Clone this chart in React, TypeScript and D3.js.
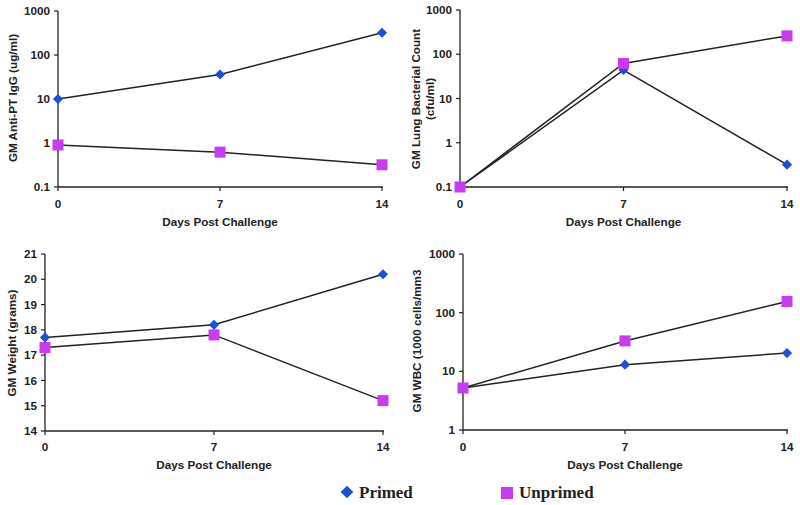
import React from "react";
import * as d3 from "d3";

const days = [0, 7, 14];
const xTicks = ["0", "7", "14"];

const igPrimed = [10, 36, 320];
const igUnprimed = [0.9, 0.62, 0.32];

const lungPrimed = [0.1, 44, 0.32];
const lungUnprimed = [0.1, 62, 260];

const weightPrimed = [17.7, 18.2, 20.2];
const weightUnprimed = [17.3, 17.8, 15.2];

const wbcPrimed = [5.2, 13, 20.5];
const wbcUnprimed = [5.2, 33, 155];

const logTicks1 = [0.1, 1, 10, 100, 1000];
const weightTicks = [14, 15, 16, 17, 18, 19, 20, 21];
const logTicks2 = [1, 10, 100, 1000];

const seriesNames = ["Primed", "Unprimed"];
const BLUE = "#1b4fdc";
const MAG = "#c63cf0";
const LINE = "#222";
const FONT = "Liberation Sans, Arial, sans-serif";
const FS = 11.7;

type PanelProps = {
  x0: number; x1: number; yTop: number; yBot: number;
  log: boolean; domain: [number, number]; ticks: number[];
  primed: number[]; unprimed: number[];
  label: string[]; labelX: number; labelY: number;
  tickLabelY: number; titleY: number;
};

function Panel(p: PanelProps) {
  const x = d3.scaleLinear().domain([0, 14]).range([p.x0, p.x1]);
  const y = p.log
    ? d3.scaleLog().domain(p.domain).range([p.yBot, p.yTop])
    : d3.scaleLinear().domain(p.domain).range([p.yBot, p.yTop]);
  const line = d3.line<number>().x((_, i) => x(days[i])).y((d) => y(d));
  return (
    <g>
      <line x1={p.x0} x2={p.x0} y1={p.yTop} y2={p.yBot} stroke={LINE} strokeWidth={1.3} />
      <line x1={p.x0} x2={p.x1 + 1} y1={p.yBot} y2={p.yBot} stroke={LINE} strokeWidth={1.3} />
      {p.ticks.map((t) => (
        <g key={t}>
          <line x1={p.x0 - 4} x2={p.x0} y1={y(t)} y2={y(t)} stroke={LINE} strokeWidth={1.2} />
          <text x={p.x0 - 8} y={y(t)} dy="0.35em" textAnchor="end" fontSize={FS} fontWeight="bold" fontFamily={FONT} fill="#222">{String(t)}</text>
        </g>
      ))}
      {days.map((d, i) => (
        <g key={d}>
          <line x1={x(d)} x2={x(d)} y1={p.yBot} y2={p.yBot + 4} stroke={LINE} strokeWidth={1.2} />
          <text x={x(d)} y={p.tickLabelY} dy="0.35em" textAnchor="middle" fontSize={FS} fontWeight="bold" fontFamily={FONT} fill="#222">{xTicks[i]}</text>
        </g>
      ))}
      <text x={(p.x0 + p.x1) / 2} y={p.titleY} dy="0.35em" textAnchor="middle" fontSize={FS} fontWeight="bold" fontFamily={FONT} fill="#222">Days Post Challenge</text>
      <text transform={`translate(${p.labelX},${p.labelY}) rotate(-90)`} textAnchor="middle" fontSize={FS} fontWeight="bold" fontFamily={FONT} fill="#222">
        {p.label.map((l, i) => (
          <tspan key={i} x={0} dy={i === 0 ? (p.label.length > 1 ? "-0.2em" : "0.35em") : "1.25em"}>{l}</tspan>
        ))}
      </text>
      <path d={line(p.primed) || ""} fill="none" stroke={LINE} strokeWidth={1.5} />
      <path d={line(p.unprimed) || ""} fill="none" stroke={LINE} strokeWidth={1.5} />
      {p.primed.map((v, i) => (
        <rect key={"p" + i} x={x(days[i]) - 3.6} y={y(v) - 3.6} width={7.2} height={7.2} fill={BLUE} transform={`rotate(45 ${x(days[i])} ${y(v)})`} />
      ))}
      {p.unprimed.map((v, i) => (
        <rect key={"u" + i} x={x(days[i]) - 5.5} y={y(v) - 5.5} width={11} height={11} fill={MAG} />
      ))}
    </g>
  );
}

export default function App() {
  return (
    <svg width={800} height={505} style={{ position: "absolute", left: 0, top: 0, background: "#fff" }}>
      <rect width={800} height={505} fill="#fff" />
      <Panel x0={58} x1={382} yTop={11} yBot={187} log domain={[0.1, 1000]} ticks={logTicks1}
        primed={igPrimed} unprimed={igUnprimed} label={["GM Anti-PT IgG (ug/ml)"]} labelX={13} labelY={98}
        tickLabelY={204} titleY={222} />
      <Panel x0={460} x1={787} yTop={10} yBot={187} log domain={[0.1, 1000]} ticks={logTicks1}
        primed={lungPrimed} unprimed={lungUnprimed} label={["GM Lung Bacterial Count", "(cfu/ml)"]} labelX={422} labelY={99}
        tickLabelY={204} titleY={222} />
      <Panel x0={45} x1={383} yTop={254} yBot={431} log={false} domain={[14, 21]} ticks={weightTicks}
        primed={weightPrimed} unprimed={weightUnprimed} label={["GM Weight (grams)"]} labelX={12} labelY={343}
        tickLabelY={447} titleY={465} />
      <Panel x0={463} x1={787} yTop={254} yBot={430} log domain={[1, 1000]} ticks={logTicks2}
        primed={wbcPrimed} unprimed={wbcUnprimed} label={["GM WBC (1000 cells/mm3"]} labelX={417} labelY={341}
        tickLabelY={447} titleY={465} />
      <g>
        <rect x={347 - 4.5} y={492 - 4.5} width={9} height={9} fill={BLUE} transform="rotate(45 347 492)" />
        <text x={359} y={492} dy="0.35em" fontSize={17} fontWeight="bold" fontFamily="Liberation Serif, Times New Roman, serif" fill="#222">{seriesNames[0]}</text>
        <rect x={501} y={487} width={12} height={12} fill={MAG} />
        <text x={519} y={492} dy="0.35em" fontSize={17} fontWeight="bold" fontFamily="Liberation Serif, Times New Roman, serif" fill="#222">{seriesNames[1]}</text>
      </g>
    </svg>
  );
}
